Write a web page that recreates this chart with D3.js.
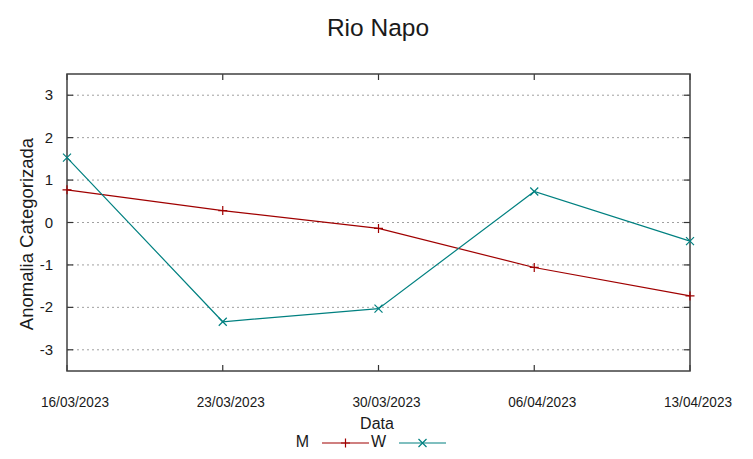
<!DOCTYPE html>
<html>
<head>
<meta charset="utf-8">
<script src="https://cdn.jsdelivr.net/npm/d3@7/dist/d3.min.js"></script>
<style>
html,body{margin:0;padding:0;background:#fff;}
text{font-family:"Liberation Sans",Arial,sans-serif;fill:#1a1a1a;}
</style>
</head>
<body>
<svg id="chart" width="753" height="459"></svg>
<script>
const dates = ["16/03/2023","23/03/2023","30/03/2023","06/04/2023","13/04/2023"];
const seriesM = [0.77, 0.28, -0.14, -1.06, -1.73];
const seriesW = [1.53, -2.34, -2.03, 0.73, -0.44];
const yTicks = [-3,-2,-1,0,1,2,3];
const title = "Rio Napo";
const xLabel = "Data";
const yLabel = "Anomalia Categorizada";

const svg = d3.select("#chart");
const L = 67, R = 690, T = 74, B = 371;
const x = d3.scalePoint().domain(dates).range([L, R]);
const y = d3.scaleLinear().domain([-3.5, 3.5]).range([B, T]);

// grid
svg.append("g").selectAll("line").data(yTicks).join("line")
  .attr("x1", L).attr("x2", R)
  .attr("y1", d => y(d)).attr("y2", d => y(d))
  .attr("stroke", "#a0a0a0").attr("stroke-width", 1)
  .attr("stroke-dasharray", "2,3");

// ticks (inward) on all sides
const tk = 6;
const ticks = svg.append("g").attr("stroke", "#333").attr("stroke-width", 1.2);
yTicks.forEach(v => {
  ticks.append("line").attr("x1", L).attr("x2", L + tk).attr("y1", y(v)).attr("y2", y(v));
  ticks.append("line").attr("x1", R).attr("x2", R - tk).attr("y1", y(v)).attr("y2", y(v));
});
dates.forEach(d => {
  ticks.append("line").attr("x1", x(d)).attr("x2", x(d)).attr("y1", B).attr("y2", B - tk);
  ticks.append("line").attr("x1", x(d)).attr("x2", x(d)).attr("y1", T).attr("y2", T + tk);
});

// border
svg.append("rect").attr("x", L).attr("y", T).attr("width", R - L).attr("height", B - T)
  .attr("fill", "none").attr("stroke", "#404040").attr("stroke-width", 1.5);

// y tick labels
svg.append("g").selectAll("text").data(yTicks).join("text")
  .attr("x", 53).attr("y", d => y(d) + 5)
  .attr("text-anchor", "end").attr("font-size", 15)
  .text(d => d);

// x tick labels
svg.append("g").selectAll("text").data(dates).join("text")
  .attr("x", d => x(d) + 8).attr("y", 407)
  .attr("text-anchor", "middle").attr("font-size", 14)
  .attr("textLength", 68).attr("lengthAdjust", "spacingAndGlyphs")
  .text(d => d);

// title
svg.append("text").attr("x", 378).attr("y", 36).attr("text-anchor", "middle")
  .attr("font-size", 24.5).text(title);

// axis labels
svg.append("text").attr("x", 377).attr("y", 429).attr("text-anchor", "middle")
  .attr("font-size", 16).text(xLabel);
svg.append("text").attr("transform", "translate(33,234) rotate(-90)")
  .attr("text-anchor", "middle").attr("font-size", 18.5).text(yLabel);

const colM = "#a00000", colW = "#008080";
const line = d3.line().x((d, i) => x(dates[i])).y(d => y(d));

function plusPath(cx, cy, s) { return `M${cx - s},${cy}H${cx + s}M${cx},${cy - s}V${cy + s}`; }
function crossPath(cx, cy, s) { return `M${cx - s},${cy - s}L${cx + s},${cy + s}M${cx - s},${cy + s}L${cx + s},${cy - s}`; }

const plot = svg.append("g");
plot.append("path").datum(seriesM).attr("d", line).attr("fill", "none")
  .attr("stroke", colM).attr("stroke-width", 1.2);
plot.append("path").datum(seriesW).attr("d", line).attr("fill", "none")
  .attr("stroke", colW).attr("stroke-width", 1.2);
plot.selectAll(".pm").data(seriesM).join("path").attr("class", "pm")
  .attr("d", (d, i) => plusPath(x(dates[i]), y(d), 4.5))
  .attr("stroke", colM).attr("stroke-width", 1.2).attr("fill", "none");
plot.selectAll(".pw").data(seriesW).join("path").attr("class", "pw")
  .attr("d", (d, i) => crossPath(x(dates[i]), y(d), 4))
  .attr("stroke", colW).attr("stroke-width", 1.2).attr("fill", "none");

// legend
const lg = svg.append("g");
lg.append("text").attr("x", 309).attr("y", 447).attr("text-anchor", "end").attr("font-size", 16).text("M");
lg.append("line").attr("x1", 322).attr("x2", 369).attr("y1", 443).attr("y2", 443).attr("stroke", colM).attr("stroke-width", 1.2);
lg.append("path").attr("d", plusPath(345.5, 443, 4.5)).attr("stroke", colM).attr("stroke-width", 1.2);
lg.append("text").attr("x", 386).attr("y", 447).attr("text-anchor", "end").attr("font-size", 16).text("W");
lg.append("line").attr("x1", 399).attr("x2", 446).attr("y1", 443).attr("y2", 443).attr("stroke", colW).attr("stroke-width", 1.2);
lg.append("path").attr("d", crossPath(422.5, 443, 4)).attr("stroke", colW).attr("stroke-width", 1.2);
</script>
</body>
</html>
